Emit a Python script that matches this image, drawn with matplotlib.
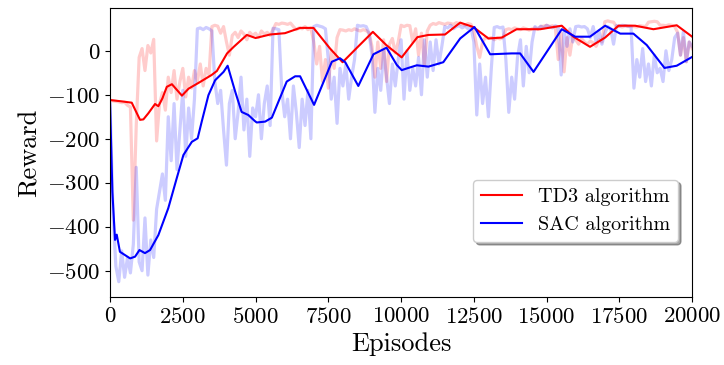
import numpy as np
import matplotlib
matplotlib.use("Agg")
import matplotlib.pyplot as plt

plt.rcParams['font.family'] = 'serif'
plt.rcParams['font.serif'] = ['cmr10']
plt.rcParams['mathtext.fontset'] = 'cm'
plt.rcParams['axes.formatter.use_mathtext'] = True

# ---- raw (faint) episode rewards, every 100 episodes ----
raw_episodes = np.arange(0, 20001, 100)
td3_raw = [
    -112, -114, -115, -116, -118, -117, -124, -128, -385, -170,
    -15, 5, -45, 12, -5, 26, -205, -120, -95, -135,
    -60, -95, -45, -110, -70, -40, -105, -60, -85, -45,
    -70, -30, -80, -40, -55, 55, 58, 56, 40, 55,
    20, -10, 35, 42, 30, 45, 38, 25, 42, 35,
    40, 30, 45, 38, 42, 35, 48, 62, 60, 63,
    62, 60, 63, 55, 48, 52, 50, 55, 48, 52,
    20, -30, 10, -70, -20, -85, 0, -40, 30, 48,
    47, 45, 48, 46, 50, 47, 45, 48, 46, 40,
    10, -60, 20, -40, 25, -70, 15, 28, -5, 20,
    58, 55, 58, 57, 20, 50, -10, 40, -33, 45,
    58, 62, 60, 64, 62, 60, 63, 62, 60, 64,
    62, 60, 58, 62, 60, 45, 10, -15, 20, 30,
    28, 30, 25, 29, 27, 30, 48, 50, 48, 52,
    50, 48, 52, 50, 47, 50, 52, 49, 55, 56,
    58, 55, 57, 52, -20, 40, -48, 30, -10, 35,
    25, 15, 28, 20, 15, 22, 18, 10, 25, 20,
    66, 68, 66, 65, 55, 56, 54, 57, 55, 56,
    55, 54, 57, 56, 55, 65, 66, 67, 66, 58,
    58, 57, 59, 58, 55, 42, -10, 30, -25, 20,
    5,
]
sac_raw = [
    -120, -365, -490, -525, -455, -515, -470, -505, -440, -265,
    -480, -500, -380, -510, -430, -470, -360, -320, -280, -340,
    -150, -250, -120, -270, -180, -90, -240, -130, -200, -110,
    50, 52, 48, 53, 50, 45, -70, -120, -90, -180,
    -260, -120, -90, -200, -140, -60, -180, -110, -240, -130,
    -150, -100, -200, -120, -80, -170, 51, 50, 48, -90,
    -150, -110, -200, -80, -140, -220, -110, -170, -90, -200,
    55, 58, 56, 54, 50, -20, -110, -60, -165, -40,
    -80, -30, -110, -60, -20, 58, 56, 57, 55, 40,
    -10, -140, -40, -90, 0, -60, -120, -30, -80, -20,
    25, -110, 0, -90, -40, -80, -15, -100, 25, -60,
    20, -45, 25, -30, 10, 55, 52, 58, 50, 55,
    57, 52, 56, 50, 54, 20, -146, -30, -120, -60,
    -150, -40, 53, 55, 52, 54, -20, -140, -60, -110,
    -15, 25, -80, 10, -50, 20, 55, 50, 56, 52,
    58, 55, 52, 57, 54, -55, 45, 10, 50, 20,
    55, 56, 54, 55, 50, 30, 55, 20, 45, 15,
    40, 55, 50, 15, 57, 56, 58, 57, 56, 55,
    -85, -20, -60, 5, -70, -30, -80, -10, -50, -40,
    -70, 0, -45, -20, 30, 40, -10, 44, -25, 20,
    10,
]

# ---- smoothed curves (read at key episodes) ----
td3_smooth_x = [0, 400, 745, 1030, 1145, 1317, 1546, 1660, 1800, 1950, 2125, 2470,
                2700, 3040, 3490, 3670, 4020, 4250, 4700, 5000, 5500, 6010, 6530,
                6990, 7560, 7990, 8500, 9030, 9490, 10020, 10560, 10940, 11510,
                12030, 12480, 13000, 13460, 13970, 14780, 15520, 15920, 16490,
                17010, 17470, 18040, 18670, 19470, 20000]
td3_smooth_y = [-112, -115, -118, -157, -156, -142, -121, -126, -108, -82, -76, -102,
                -86, -73, -55, -46, -6, 9, 36, 29, 37, 40, 52,
                52, 5, -26, 8, 43, 13, -15, 31, 36, 37,
                64, 54, 28, 30, 49, 49, 57, 32, 9,
                30, 57, 57, 49, 58, 32]

sac_smooth_x = [0, 80, 170, 230, 340, 690, 860, 1010, 1200, 1375, 1660, 2000, 2290,
                2520, 2810, 3010, 3150, 3380, 3610, 3900, 4040, 4300, 4520, 4750,
                4980, 5040, 5330, 5560, 6070, 6360, 6530, 7010, 7620, 7900, 8080,
                8530, 9050, 9500, 9850, 10020, 10250, 10540, 10940, 11450, 12030,
                12520, 13060, 13800, 14090, 14550, 15520, 15980, 16490, 17010,
                17530, 17980, 18440, 19050, 19470, 20000]
sac_smooth_y = [-120, -320, -430, -418, -457, -472, -468, -453, -460, -453, -419, -358, -290,
                -237, -207, -199, -161, -101, -67, -48, -34, -93, -139, -146,
                -160, -163, -161, -152, -70, -58, -58, -123, -25, -17, -26,
                -80, -8, 7, -32, -44, -39, -33, -36, -26, 28,
                54, -8, -6, -6, -48, 49, 32, 32, 57,
                39, 39, 13, -39, -34, -14]

fig = plt.figure(figsize=(7.24, 3.65), dpi=100)
ax = fig.add_axes([0.152, 0.186, 0.804, 0.793])

ax.plot(raw_episodes, td3_raw, color='red', alpha=0.2, lw=2.3)
ax.plot(raw_episodes, sac_raw, color='blue', alpha=0.2, lw=2.3)
ax.plot(td3_smooth_x, td3_smooth_y, color='red', lw=1.5, label='TD3 algorithm')
ax.plot(sac_smooth_x, sac_smooth_y, color='blue', lw=1.5, label='SAC algorithm')

ax.set_xlim(0, 20000)
ax.set_ylim(-560, 98)
ax.set_xticks(np.arange(0, 20001, 2500))
ax.set_yticks([0, -100, -200, -300, -400, -500])
ax.tick_params(labelsize=16.5)
ax.set_xlabel('Episodes', fontsize=19, labelpad=4)
ax.set_ylabel('Reward', fontsize=19)

ax.legend(loc='lower right', bbox_to_anchor=(0.976, 0.19), borderaxespad=0,
          fontsize=14.5, fancybox=True, shadow=True, framealpha=1)

fig.savefig('out.png', dpi=100)
